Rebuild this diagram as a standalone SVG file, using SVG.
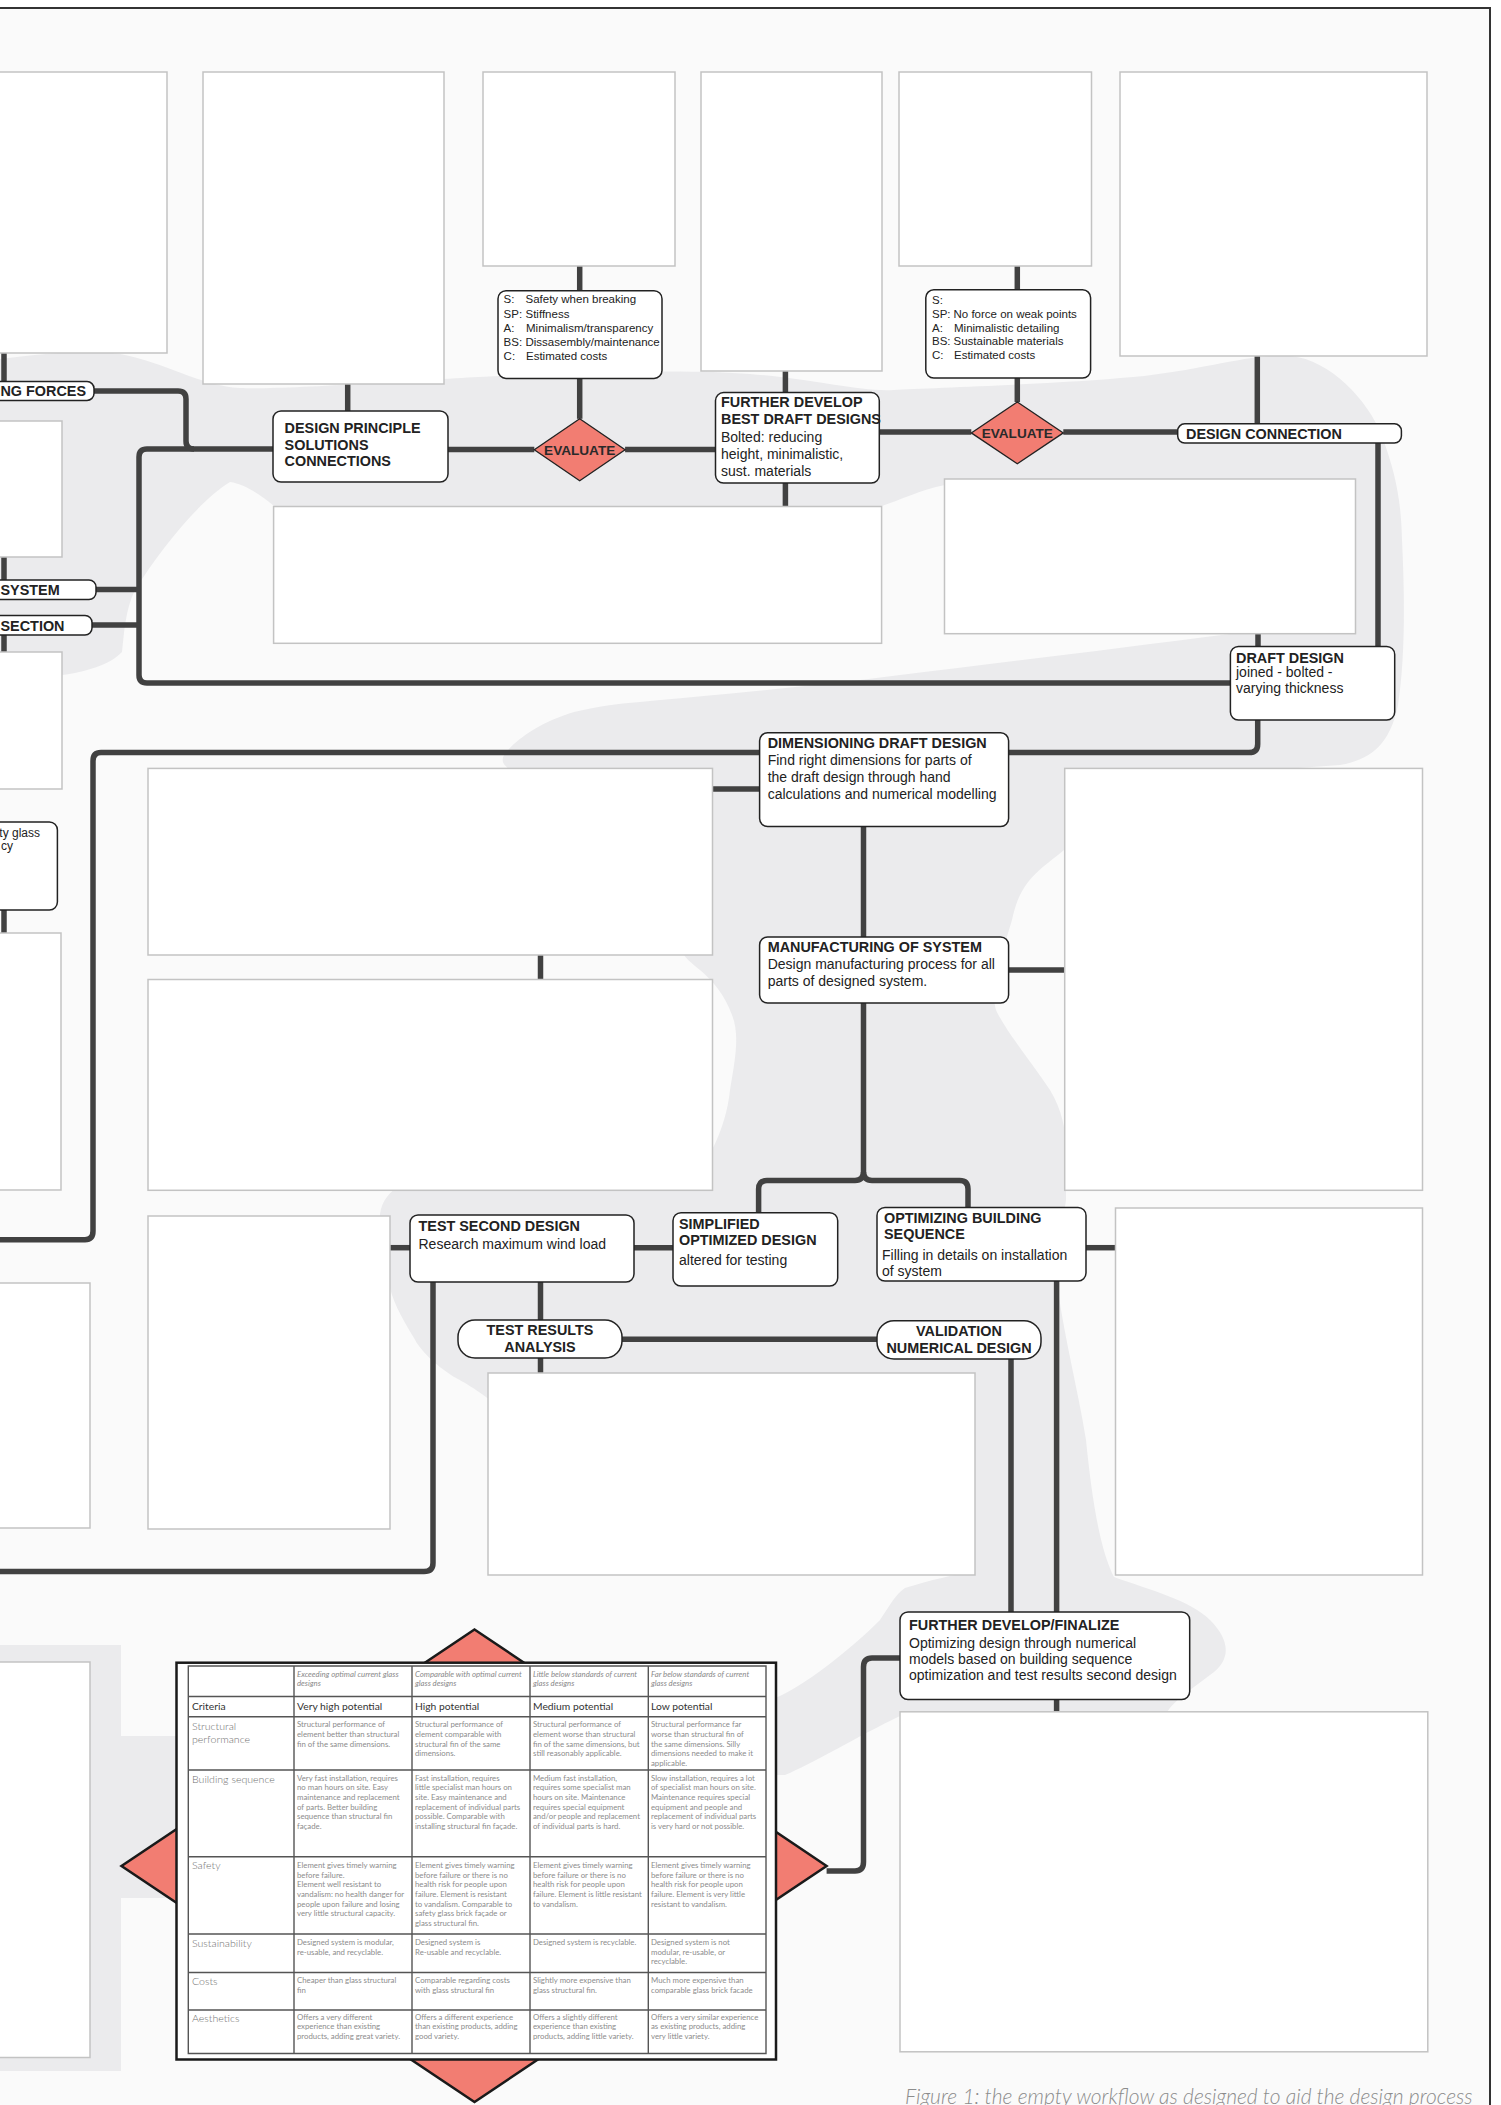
<svg xmlns="http://www.w3.org/2000/svg" width="1501" height="2105" viewBox="0 0 1501 2105">
<style>
.img{fill:#fff;stroke:#c3c3c3;stroke-width:1.5}
.node{fill:#fff;stroke:#222;stroke-width:1.5}
.dia{fill:#f27d72;stroke:#222;stroke-width:1.3}
.conn{fill:none;stroke:#414141;stroke-width:5.5;stroke-linejoin:round;stroke-linecap:butt}
.t{font-family:"Liberation Sans",Arial,sans-serif;fill:#222}
.b{font-weight:bold;font-size:14.4px}
.r{font-size:14px}
.s{font-size:11.5px}
.ev{font-family:"Liberation Sans",Arial,sans-serif;font-weight:bold;font-size:13.6px;fill:#2a2a2a;text-anchor:middle}
.c{text-anchor:middle}
.e{text-anchor:end}
.grid{fill:none;stroke:#555;stroke-width:1.4}
.th{font-family:Lato,"Liberation Sans",sans-serif;font-style:italic;font-size:7.8px;fill:#8a8a8a}
.tl{font-family:Lato,"Liberation Sans",sans-serif;font-size:10.3px;fill:#333}
.tc{font-family:Lato,"Liberation Sans",sans-serif;font-weight:300;font-size:10.6px;fill:#707070}
.tb{font-family:Lato,"Liberation Sans",sans-serif;font-size:7.8px;fill:#8c8c8c}
</style>
<rect x="0" y="0" width="1501" height="2105" fill="#fff"/>
<rect x="-20" y="8" width="1510" height="2120" fill="#fafafa" stroke="#333" stroke-width="2"/>
<g id="background-blobs" fill="#ebebed">
<path d="M -10,360 C 30,356 80,348 120,354 C 165,362 200,386 240,388 S 420,380 478,377 S 680,368 750,374 S 860,392 894,390 S 1060,384 1133,377 S 1255,352 1291,356 C 1330,360 1368,400 1382,436 C 1396,475 1401,500 1402,540 C 1405,600 1405,660 1398,705 C 1390,745 1370,760 1340,765 L 1200,775 L 1090,790 C 1070,800 1068,830 1064,850 C 1040,870 1020,880 1012,920 C 1000,960 990,990 996,1010 C 1005,1030 1030,1060 1050,1090 C 1062,1110 1066,1130 1066,1150 L 1066,1200 C 1060,1240 1056,1270 1058,1290 C 1065,1340 1080,1400 1086,1440 C 1092,1500 1100,1550 1114,1577 C 1150,1590 1190,1600 1210,1620 C 1230,1640 1232,1660 1210,1675 C 1190,1690 1175,1700 1167,1712 L 1000,1716 L 900,1716 C 860,1735 810,1765 785,1775 L 770,1775 L 770,1700 C 800,1690 850,1650 880,1620 C 890,1605 895,1595 905,1588 C 930,1580 955,1575 975,1570 L 700,1570 L 490,1400 C 470,1385 460,1380 454,1377 C 435,1365 420,1350 414,1338 C 400,1315 392,1300 388,1280 C 383,1250 378,1230 380,1214 C 382,1200 390,1192 400,1185 L 712,1150 C 722,1130 728,1110 730,1090 C 735,1060 740,1035 732,1015 C 725,995 712,980 700,970 C 690,962 686,958 684,955 L 520,775 C 505,768 500,763 504,755 C 515,740 540,722 574,712 C 600,706 615,704 640,702 C 700,696 800,688 900,675 C 1000,663 1120,648 1230,634 L 1230,600 L 945,485 C 920,490 900,500 882,506 L 880,515 L 280,515 L 274,506 C 260,495 245,484 230,482 C 200,500 160,550 135,590 C 125,610 124,635 122,652 C 110,665 85,672 62,675 C 40,680 15,688 -10,692 Z"/>
<path d="M -10,1645 H121 V1736 H176.5 V1898 H121 V2071 H-10 Z"/>
</g>
<g id="connectors" class="conn">
<path d="M4,353 V381.6"/>
<path d="M94,391 H178 Q186,391 186,399 V441 Q186,449 194,449"/>
<path d="M273,449 H147 Q139,449 139,457 V675 Q139,683 147,683 H1230.4"/>
<path d="M96,589.5 H139"/>
<path d="M92,625 H139"/>
<path d="M4,557 V580"/>
<path d="M4,635 V652"/>
<path d="M4,910 V933"/>
<path d="M347.7,384 V411"/>
<path d="M448,449.5 H534.3"/>
<path d="M625.1,449.5 H715.5"/>
<path d="M579.7,266 V290.7"/>
<path d="M579.7,378.4 V418.8"/>
<path d="M785.4,371 V392.6"/>
<path d="M785.4,483 V506.5"/>
<path d="M879.3,432 H971.3"/>
<path d="M1063.3,432 H1177.7"/>
<path d="M1017.3,266 V289.8"/>
<path d="M1017.3,378 V402"/>
<path d="M1257.3,356 V423.8"/>
<path d="M1378,443 V646.5"/>
<path d="M1258,633.7 V646.5"/>
<path d="M1257.7,720 V744 Q1257.7,752.6 1249,752.6 H1008.7"/>
<path d="M759.6,752.6 H101 Q93,752.6 93,761 V1231 Q93,1239.7 85,1239.7 H-10"/>
<path d="M712.5,789 H759.6"/>
<path d="M540.5,955 V979.5"/>
<path d="M863.5,826.5 V937"/>
<path d="M1008.7,970 H1064.7"/>
<path d="M863.5,1003 V1172 Q863.5,1180.4 855,1180.4 H767 Q758.6,1180.4 758.6,1189 V1212.7"/>
<path d="M863.5,1172 Q863.5,1180.4 872,1180.4 H959.6 Q968,1180.4 968,1189 V1207.5"/>
<path d="M390,1247.7 H410"/>
<path d="M634,1247.7 H673"/>
<path d="M433,1282 V1563 Q433,1571.5 424,1571.5 H-10"/>
<path d="M540.5,1282 V1320"/>
<path d="M540.5,1358 V1373"/>
<path d="M622,1339.3 H877"/>
<path d="M1086,1247.7 H1115.5"/>
<path d="M1011,1359 V1612"/>
<path d="M1056.6,1281 V1612"/>
<path d="M1056.6,1699.5 V1711.8"/>
<path d="M826.6,1871 H855 Q863.5,1871 863.5,1862 V1667 Q863.5,1658 872,1658 H900"/>
</g>
<g id="image-boxes">
<rect id="box1" class="img" x="-10" y="72" width="177" height="281"/>
<rect id="box2" class="img" x="203" y="72" width="241" height="312"/>
<rect id="box3" class="img" x="483" y="72" width="192" height="194"/>
<rect id="box4" class="img" x="701" y="72" width="181" height="299"/>
<rect id="box5" class="img" x="899" y="72" width="192.5" height="194"/>
<rect id="box6" class="img" x="1120" y="72" width="307" height="284"/>
<rect id="box7" class="img" x="944.5" y="479" width="411" height="154.7"/>
<rect id="box8" class="img" x="273.6" y="506.5" width="608" height="136.8"/>
<rect id="left1" class="img" x="-10" y="421" width="72" height="136"/>
<rect id="left2" class="img" x="-10" y="652" width="72" height="137"/>
<rect id="left3" class="img" x="-10" y="933" width="71" height="257"/>
<rect id="left4" class="img" x="-10" y="1283" width="100" height="245"/>
<rect id="boxA" class="img" x="148" y="768.4" width="564.5" height="186.6"/>
<rect id="boxB" class="img" x="148" y="979.5" width="564.5" height="210.8"/>
<rect id="boxC" class="img" x="148" y="1216" width="242" height="313"/>
<rect id="boxD" class="img" x="488" y="1373" width="487" height="202"/>
<rect id="boxE" class="img" x="1115.5" y="1208" width="307" height="367"/>
<rect id="boxF" class="img" x="1064.7" y="768.4" width="357.8" height="421.9"/>
<rect id="boxG" class="img" x="900" y="1711.8" width="527.8" height="340"/>
<rect id="left5" class="img" x="-10" y="1662" width="100" height="395.5"/>
</g>
<g id="ing-forces"><rect class="node" x="-20" y="381.6" width="114" height="18.8" rx="7"/><text class="t b e" x="86" y="396">ING FORCES</text></g>
<g id="system"><rect class="node" x="-20" y="580" width="116" height="19.5" rx="7"/><text class="t b" x="0.5" y="595">SYSTEM</text></g>
<g id="section"><rect class="node" x="-20" y="615.5" width="112" height="19.5" rx="7"/><text class="t b" x="0.5" y="630.5">SECTION</text></g>
<g id="glass-node"><rect class="node" x="-20" y="822" width="77.4" height="88" rx="8"/><text class="t e" font-size="12" x="40" y="836.5">ty glass</text><text class="t e" font-size="12" x="13" y="850">cy</text></g>
<g id="design-principle"><rect class="node" x="273" y="411" width="175" height="71" rx="8"/><text class="t b" x="284.6" y="433">DESIGN PRINCIPLE</text><text class="t b" x="284.6" y="449.5">SOLUTIONS</text><text class="t b" x="284.6" y="466">CONNECTIONS</text></g>
<g id="criteria-1"><rect class="node" x="498" y="290.7" width="164" height="87.7" rx="8"/>
<text class="t s" x="503.6" y="303.4">S:<tspan x="525.5">Safety when breaking</tspan></text>
<text class="t s" x="503.6" y="317.6">SP:<tspan x="525.5">Stiffness</tspan></text>
<text class="t s" x="503.6" y="331.9">A:<tspan x="526">Minimalism/transparency</tspan></text>
<text class="t s" x="503.6" y="345.6">BS:<tspan x="525.5">Dissasembly/maintenance</tspan></text>
<text class="t s" x="503.6" y="359.9">C:<tspan x="526">Estimated costs</tspan></text></g>
<g id="evaluate-1"><polygon class="dia" points="579.7,418.8 625.1,449.8 579.7,480.8 534.3,449.8"/><text class="ev" x="579.7" y="454.6">EVALUATE</text></g>
<g id="further-develop"><rect class="node" x="715.5" y="392.6" width="163.8" height="90.4" rx="8"/><text class="t b" x="721" y="407">FURTHER DEVELOP</text><text class="t b" x="721" y="424" font-size="14">BEST DRAFT DESIGNS</text><text class="t r" x="721" y="442">Bolted: reducing</text><text class="t r" x="721" y="459">height, minimalistic,</text><text class="t r" x="721" y="476">sust. materials</text></g>
<g id="criteria-2"><rect class="node" x="925.8" y="289.8" width="164.8" height="88.2" rx="8"/>
<text class="t s" x="932" y="304">S:</text>
<text class="t s" x="932" y="317.5">SP:<tspan x="953.5">No force on weak points</tspan></text>
<text class="t s" x="932" y="331.5">A:<tspan x="954">Minimalistic detailing</tspan></text>
<text class="t s" x="932" y="345.3">BS:<tspan x="953.5">Sustainable materials</tspan></text>
<text class="t s" x="932" y="359.3">C:<tspan x="954">Estimated costs</tspan></text></g>
<g id="evaluate-2"><polygon class="dia" points="1017.3,402 1063.3,432.9 1017.3,463.8 971.3,432.9"/><text class="ev" x="1017.3" y="437.6">EVALUATE</text></g>
<g id="design-connection"><rect class="node" x="1177.7" y="423.8" width="223.7" height="19.2" rx="7"/><text class="t b" x="1186" y="439">DESIGN CONNECTION</text></g>
<g id="draft-design"><rect class="node" x="1230.4" y="646.5" width="164.3" height="73.5" rx="8"/><text class="t b" x="1236" y="663">DRAFT DESIGN</text><text class="t r" x="1236" y="676.5">joined - bolted -</text><text class="t r" x="1236" y="692.5">varying thickness</text></g>
<g id="dimensioning"><rect class="node" x="759.6" y="732.8" width="249" height="93.7" rx="8"/><text class="t b" x="767.7" y="747.7">DIMENSIONING DRAFT DESIGN</text><text class="t r" x="767.7" y="765">Find right dimensions for parts of</text><text class="t r" x="767.7" y="782">the draft design through hand</text><text class="t r" x="767.7" y="799">calculations and numerical modelling</text></g>
<g id="manufacturing"><rect class="node" x="759.6" y="937" width="249" height="66" rx="8"/><text class="t b" x="767.7" y="952">MANUFACTURING OF SYSTEM</text><text class="t r" x="767.7" y="969">Design manufacturing process for all</text><text class="t r" x="767.7" y="986">parts of designed system.</text></g>
<g id="test-second-design"><rect class="node" x="410" y="1215" width="224" height="67" rx="8"/><text class="t b" x="418.5" y="1230.5">TEST SECOND DESIGN</text><text class="t r" x="418.5" y="1248.5">Research maximum wind load</text></g>
<g id="simplified"><rect class="node" x="673" y="1212.7" width="164.7" height="73.3" rx="8"/><text class="t b" x="679" y="1228.5">SIMPLIFIED</text><text class="t b" x="679" y="1244.5">OPTIMIZED DESIGN</text><text class="t r" x="679" y="1264.5">altered for testing</text></g>
<g id="optimizing"><rect class="node" x="877" y="1207.5" width="209" height="73.5" rx="8"/><text class="t b" x="884" y="1222.7">OPTIMIZING BUILDING</text><text class="t b" x="884" y="1238.7">SEQUENCE</text><text class="t r" x="882" y="1260">Filling in details on installation</text><text class="t r" x="882" y="1276">of system</text></g>
<g id="test-results"><rect class="node" x="458" y="1320" width="164" height="38" rx="17"/><text class="t b c" x="540" y="1335">TEST RESULTS</text><text class="t b c" x="540" y="1352">ANALYSIS</text></g>
<g id="validation"><rect class="node" x="877" y="1320.7" width="164" height="38.3" rx="17"/><text class="t b c" x="959" y="1336">VALIDATION</text><text class="t b c" x="959" y="1353">NUMERICAL DESIGN</text></g>
<g id="finalize"><rect class="node" x="900" y="1612" width="289.7" height="87.5" rx="8"/><text class="t b" x="909" y="1629.5">FURTHER DEVELOP/FINALIZE</text><text class="t r" x="909" y="1647.5">Optimizing design through numerical</text><text class="t r" x="909" y="1663.5">models based on building sequence</text><text class="t r" x="909" y="1680">optimization and test results second design</text></g>
<g id="evaluation-table">
<polygon fill="#f27d72" stroke="#1a1a1a" stroke-width="2.5" points="474.5,1629.5 826.6,1866 474.5,2102 121.5,1866"/>
<rect x="176.5" y="1662.7" width="599.5" height="396.8" fill="#fff" stroke="#1a1a1a" stroke-width="2.5"/>
<path class="grid" d="M188.3,1666 H766 V2053.5 H188.3 Z M294,1666 V2053.5 M412,1666 V2053.5 M530,1666 V2053.5 M648.3,1666 V2053.5 M188.3,1696.5 H766 M188.3,1716.8 H766 M188.3,1770 H766 M188.3,1856.8 H766 M188.3,1934 H766 M188.3,1972.5 H766 M188.3,2010 H766"/>
<text class="th" x="297" y="1677">Exceeding optimal current glass<tspan x="297" dy="8.8">designs</tspan></text>
<text class="th" x="415" y="1677">Comparable with optimal current<tspan x="415" dy="8.8">glass designs</tspan></text>
<text class="th" x="533" y="1677">Little below standards of current<tspan x="533" dy="8.8">glass designs</tspan></text>
<text class="th" x="651" y="1677">Far below standards of current<tspan x="651" dy="8.8">glass designs</tspan></text>
<text class="tl" x="192" y="1710">Criteria</text>
<text class="tl" x="297" y="1710">Very high potential</text>
<text class="tl" x="415" y="1710">High potential</text>
<text class="tl" x="533" y="1710">Medium potential</text>
<text class="tl" x="651" y="1710">Low potential</text>
<text class="tc" x="192" y="1729.5">Structural<tspan x="192" dy="13.3">performance</tspan></text>
<text class="tc" x="192" y="1783.3">Building sequence</text>
<text class="tc" x="192" y="1869">Safety</text>
<text class="tc" x="192" y="1946.5">Sustainability</text>
<text class="tc" x="192" y="1984.5">Costs</text>
<text class="tc" x="192" y="2021.5">Aesthetics</text>
<text class="tb" x="297" y="1727.3">Structural performance of<tspan x="297" dy="9.7">element better than structural</tspan><tspan x="297" dy="9.7">fin of the same dimensions.</tspan></text>
<text class="tb" x="415" y="1727.3">Structural performance of<tspan x="415" dy="9.7">element comparable with</tspan><tspan x="415" dy="9.7">structural fin of the same</tspan><tspan x="415" dy="9.7">dimensions.</tspan></text>
<text class="tb" x="533" y="1727.3">Structural performance of<tspan x="533" dy="9.7">element worse than structural</tspan><tspan x="533" dy="9.7">fin of the same dimensions, but</tspan><tspan x="533" dy="9.7">still reasonably applicable.</tspan></text>
<text class="tb" x="651" y="1727.3">Structural performance far<tspan x="651" dy="9.7">worse than structural fin of</tspan><tspan x="651" dy="9.7">the same dimensions. Silly</tspan><tspan x="651" dy="9.7">dimensions needed to make it</tspan><tspan x="651" dy="9.7">applicable.</tspan></text>
<text class="tb" x="297" y="1780.5">Very fast installation, requires<tspan x="297" dy="9.7">no man hours on site. Easy</tspan><tspan x="297" dy="9.7">maintenance and replacement</tspan><tspan x="297" dy="9.7">of parts. Better building</tspan><tspan x="297" dy="9.7">sequence than structural fin</tspan><tspan x="297" dy="9.7">façade.</tspan></text>
<text class="tb" x="415" y="1780.5">Fast installation, requires<tspan x="415" dy="9.7">little specialist man hours on</tspan><tspan x="415" dy="9.7">site. Easy maintenance and</tspan><tspan x="415" dy="9.7">replacement of individual parts</tspan><tspan x="415" dy="9.7">possible. Comparable with</tspan><tspan x="415" dy="9.7">installing structural fin façade.</tspan></text>
<text class="tb" x="533" y="1780.5">Medium fast installation,<tspan x="533" dy="9.7">requires some specialist man</tspan><tspan x="533" dy="9.7">hours on site. Maintenance</tspan><tspan x="533" dy="9.7">requires special equipment</tspan><tspan x="533" dy="9.7">and/or people and replacement</tspan><tspan x="533" dy="9.7">of individual parts is hard.</tspan></text>
<text class="tb" x="651" y="1780.5">Slow installation, requires a lot<tspan x="651" dy="9.7">of specialist man hours on site.</tspan><tspan x="651" dy="9.7">Maintenance requires special</tspan><tspan x="651" dy="9.7">equipment and people and</tspan><tspan x="651" dy="9.7">replacement of individual parts</tspan><tspan x="651" dy="9.7">is very hard or not possible.</tspan></text>
<text class="tb" x="297" y="1867.8">Element gives timely warning<tspan x="297" dy="9.7">before failure.</tspan><tspan x="297" dy="9.7">Element well resistant to</tspan><tspan x="297" dy="9.7">vandalism: no health danger for</tspan><tspan x="297" dy="9.7">people upon failure and losing</tspan><tspan x="297" dy="9.7">very little structural capacity.</tspan></text>
<text class="tb" x="415" y="1867.8">Element gives timely warning<tspan x="415" dy="9.7">before failure or there is no</tspan><tspan x="415" dy="9.7">health risk for people upon</tspan><tspan x="415" dy="9.7">failure. Element is resistant</tspan><tspan x="415" dy="9.7">to vandalism. Comparable to</tspan><tspan x="415" dy="9.7">safety glass brick façade or</tspan><tspan x="415" dy="9.7">glass structural fin.</tspan></text>
<text class="tb" x="533" y="1867.8">Element gives timely warning<tspan x="533" dy="9.7">before failure or there is no</tspan><tspan x="533" dy="9.7">health risk for people upon</tspan><tspan x="533" dy="9.7">failure. Element is little resistant</tspan><tspan x="533" dy="9.7">to vandalism.</tspan></text>
<text class="tb" x="651" y="1867.8">Element gives timely warning<tspan x="651" dy="9.7">before failure or there is no</tspan><tspan x="651" dy="9.7">health risk for people upon</tspan><tspan x="651" dy="9.7">failure. Element is very little</tspan><tspan x="651" dy="9.7">resistant to vandalism.</tspan></text>
<text class="tb" x="297" y="1944.8">Designed system is modular,<tspan x="297" dy="9.7">re-usable, and recyclable.</tspan></text>
<text class="tb" x="415" y="1944.8">Designed system is<tspan x="415" dy="9.7">Re-usable and recyclable.</tspan></text>
<text class="tb" x="533" y="1944.8">Designed system is recyclable.</text>
<text class="tb" x="651" y="1944.8">Designed system is not<tspan x="651" dy="9.7">modular, re-usable, or</tspan><tspan x="651" dy="9.7">recyclable.</tspan></text>
<text class="tb" x="297" y="1982.8">Cheaper than glass structural<tspan x="297" dy="9.7">fin</tspan></text>
<text class="tb" x="415" y="1982.8">Comparable regarding costs<tspan x="415" dy="9.7">with glass structural fin</tspan></text>
<text class="tb" x="533" y="1982.8">Slightly more expensive than<tspan x="533" dy="9.7">glass structural fin.</tspan></text>
<text class="tb" x="651" y="1982.8">Much more expensive than<tspan x="651" dy="9.7">comparable glass brick facade</tspan></text>
<text class="tb" x="297" y="2019.5">Offers a very different<tspan x="297" dy="9.7">experience than existing</tspan><tspan x="297" dy="9.7">products, adding great variety.</tspan></text>
<text class="tb" x="415" y="2019.5">Offers a different experience<tspan x="415" dy="9.7">than existing products, adding</tspan><tspan x="415" dy="9.7">good variety.</tspan></text>
<text class="tb" x="533" y="2019.5">Offers a slightly different<tspan x="533" dy="9.7">experience than existing</tspan><tspan x="533" dy="9.7">products, adding little variety.</tspan></text>
<text class="tb" x="651" y="2019.5">Offers a very similar experience<tspan x="651" dy="9.7">as existing products, adding</tspan><tspan x="651" dy="9.7">very little variety.</tspan></text>
</g>
<text id="caption" x="905" y="2104" font-family="Lato, 'Liberation Sans', sans-serif" font-style="italic" font-weight="300" font-size="21" fill="#8c8c8c">Figure 1: the empty workflow as designed to aid the design process</text>
</svg>
